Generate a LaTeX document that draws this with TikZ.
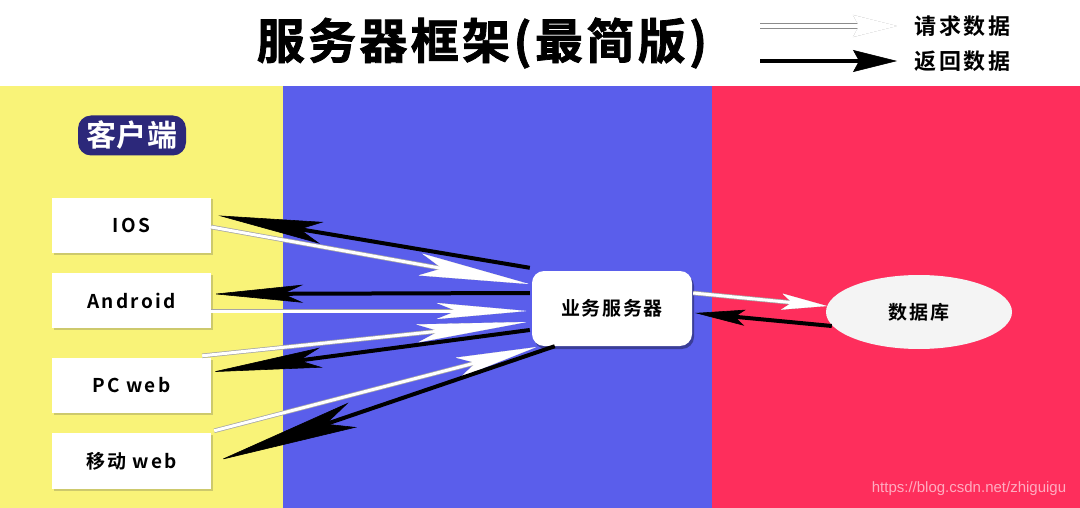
\documentclass[tikz,border=0pt]{standalone}
\usepackage{fontspec}
\setmainfont{Noto Sans CJK SC}[BoldFont={Noto Sans CJK SC Bold}]
\newfontfamily\titlefont{Noto Sans CJK SC Bold}[LetterSpace=7, FakeBold=1.6]
\newfontfamily\labfont{Noto Sans CJK SC Bold}[LetterSpace=12]
\newfontfamily\srvfont{Noto Sans CJK SC Bold}[LetterSpace=8]
\newfontfamily\clabfont{Noto Sans CJK SC Bold}[LetterSpace=2]
\newfontfamily\urlfont{Liberation Sans}
\usetikzlibrary{arrows.meta,shapes.geometric,shadows,calc}
\definecolor{bgyellow}{RGB}{249,243,120}
\definecolor{bgblue}{RGB}{90,94,235}
\definecolor{bgred}{RGB}{254,46,92}
\definecolor{navyc}{RGB}{44,40,122}
\definecolor{dbfill}{RGB}{244,244,244}
\definecolor{urlpink}{RGB}{255,172,192}
\tikzset{
  clientbox/.style={fill=white, minimum width=159pt, minimum height=55pt, inner sep=0pt,
    font=\labfont\fontsize{19}{22}\selectfont,
    drop shadow={shadow xshift=1.5pt, shadow yshift=-1.5pt, opacity=0.25, fill=black!70}},
  srvbox/.style={fill=white, rounded corners=12pt, minimum width=160pt, minimum height=75pt, inner sep=0pt,
    font=\srvfont\fontsize{19}{22}\selectfont,
    drop shadow={shadow xshift=2pt, shadow yshift=-3pt, opacity=0.35, fill=black}},
  dbnode/.style={ellipse, fill=dbfill, minimum width=186pt, minimum height=74pt, inner sep=0pt,
    font=\srvfont\fontsize{19}{22}\selectfont},
  retarrow/.style n args={3}{draw=black, line width=4pt,
    -{Stealth[length=#1pt, width=#2pt, inset=#3pt, line width=0.6pt]}},
  reqarrow/.style n args={3}{draw=white, line width=3pt,
    -{Stealth[length=#1pt, width=#2pt, inset=#3pt, line width=0.1pt, fill=white]},
    preaction={draw=black!35, line width=4.5pt,
      -{Stealth[length=#1pt, width=#2pt, inset=#3pt, line width=1.4pt, fill=black!35]}}},
}
\begin{document}
\begin{tikzpicture}[x=1pt,y=-1pt]
\useasboundingbox (0,0) rectangle (1080,508);
\fill[white] (0,0) rectangle (1080,508);
\fill[bgyellow] (0,86) rectangle (283,508);
\fill[bgblue] (283,86) rectangle (712,508);
\fill[bgred] (712,86) rectangle (1080,508);

% title
\node (title) at (482,43) {\titlefont\fontsize{48}{50}\selectfont 服务器框架(最简版)};

% legend
\node[anchor=west, font=\labfont\fontsize{22}{24}\selectfont] (lgreq) at (911,26) {请求数据};
\node[anchor=west, font=\labfont\fontsize{22}{24}\selectfont] (lgret) at (911,61) {返回数据};
\coordinate (lgA) at (760,26);
\coordinate (lgB) at (897,26);
\coordinate (lgC) at (760,61);
\coordinate (lgD) at (897,61);
\draw[draw=white, line width=3.5pt,
  -{Stealth[length=44pt, width=22pt, inset=6pt, line width=0.1pt, fill=white]},
  preaction={draw=black!45, line width=5.5pt,
    -{Stealth[length=44pt, width=22pt, inset=6pt, line width=1.8pt, fill=black!45]}}] (lgA) -- (lgB);
\draw[draw=black, line width=4pt,
  -{Stealth[length=44pt, width=22pt, inset=6pt, line width=0.6pt]}] (lgC) -- (lgD);

% client label
\node[fill=navyc, rounded corners=13pt, minimum width=108pt, minimum height=40pt, inner sep=0pt,
  text=white, font=\clabfont\fontsize{30}{32}\selectfont] (clab) at (132,135.5) {客户端};

% client boxes
\node[clientbox] (ios) at (131.5,225.5) {IOS};
\node[clientbox] (and) at (131.5,300.5) {Android};
\node[clientbox] (pc) at (131.5,385.5) {PC web};
\node[clientbox, minimum height=56pt] (mob) at (131.5,461) {移动 web};

% server and database
\node[srvbox] (srv) at (612,308.5) {业务服务器};
\node[dbnode] (db) at (919,312) {数据库};

% client <-> server
\draw[retarrow={105}{22}{22}] ($(srv.north west)+(-2,-3)$) -- ($(ios.east)+(7,-10)$);
\draw[reqarrow={110}{22}{22}] ($(ios.east)+(0,1.5)$) -- ($(srv.west)+(-3,-24.5)$);
\draw[retarrow={90}{18}{20}] ($(srv.west)+(-2,-15.5)$) -- ($(and.east)+(2,-6.5)$);
\draw[reqarrow={90}{16}{20}] ($(and.east)+(0,10.5)$) -- ($(srv.west)+(-5,2.5)$);
\draw[reqarrow={110}{18}{22}] ($(pc.north east)+(-9,-2)$) -- ($(srv.west)+(-5,13.5)$);
\draw[retarrow={110}{20}{22}] ($(srv.west)+(-2,21.5)$) -- ($(pc.east)+(1,-13.5)$);
\draw[reqarrow={80}{20}{18}] ($(mob.north east)+(3,-2)$) -- ($(srv.south west)+(4,1)$);
\draw[retarrow={140}{26}{28}] ($(srv.south west)+(23,0)$) -- ($(mob.east)+(9,-1)$);

% server <-> database
\draw[reqarrow={45}{16}{10}] ($(srv.east)+(1,-15.5)$) -- ($(db.west)+(1,-6)$);
\draw[retarrow={50}{16}{10}] ($(db.west)+(6,14)$) -- ($(srv.east)+(3,4.5)$);

% watermark
\node[text=urlpink, font=\urlfont\fontsize{15}{17}\selectfont] (wm) at (969,489) {https://blog.csdn.net/zhiguigu};
\end{tikzpicture}
\end{document}
